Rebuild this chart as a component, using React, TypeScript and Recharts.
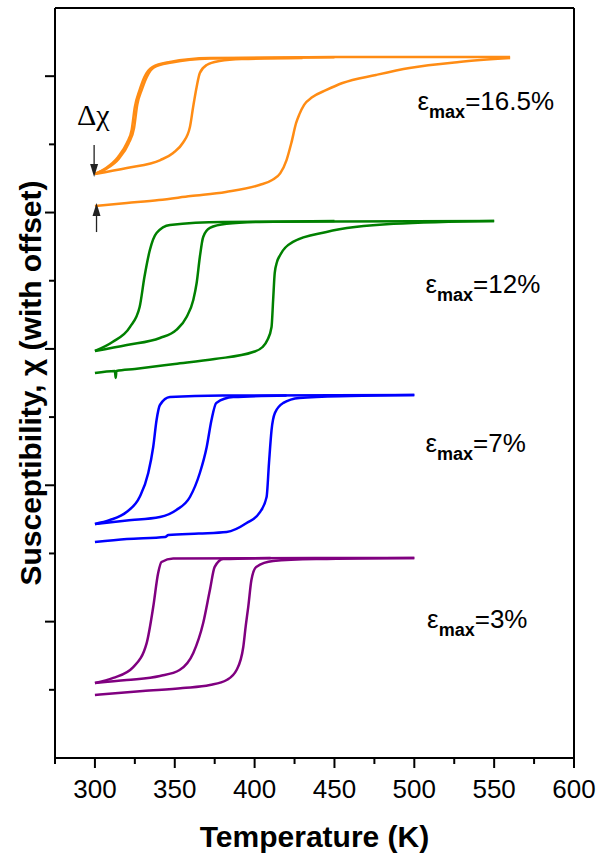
import { LineChart, Line, XAxis, YAxis, ReferenceLine, ReferenceDot } from 'recharts';

type Pair = [number, number];

// temperature (K), susceptibility with offset (arb.)
// eps_max = 16.5 %
const s165Heat1: Pair[] = [
  [300, 4.048], [320, 4.07], [340, 4.092], [360, 4.121], [382, 4.151], [403, 4.202],
  [411, 4.239], [416, 4.287], [420, 4.385], [423, 4.51], [426, 4.657], [428, 4.72],
  [431, 4.79], [436, 4.845], [445, 4.899], [455, 4.95], [476, 5.009], [497, 5.06], [528, 5.104], [560, 5.133],
];
const s165Cool1: Pair[] = [
  [300, 4.283], [307, 4.327], [314.5, 4.408], [320, 4.51], [323, 4.605], [325, 4.774],
  [328, 4.899], [331, 4.994], [336, 5.067], [347, 5.104], [372, 5.133], [450, 5.14], [560, 5.14],
];
const s165Cool2: Pair[] = [
  [300, 4.283], [307, 4.32], [315, 4.395], [321, 4.505], [324.5, 4.62], [326.5, 4.79],
  [329.5, 4.905], [332.5, 4.995], [337, 5.065], [348, 5.1], [372, 5.13], [450, 5.138],
];
const s165Heat2: Pair[] = [
  [300, 4.283], [320, 4.327], [341, 4.385], [349, 4.437], [355, 4.51], [359.5, 4.628],
  [361.5, 4.774], [363.7, 4.921], [365.7, 5.023], [370, 5.082], [378, 5.111], [392, 5.126], [430, 5.133],
];

// eps_max = 12 %
const s12Heat1: Pair[] = [
  [300, 2.823], [312.5, 2.838], [313, 2.787], [313.5, 2.838], [325, 2.853], [350, 2.889],
  [375, 2.926], [399, 2.977], [405, 3.014], [408, 3.065], [410.6, 3.161], [411.6, 3.359],
  [412.6, 3.557], [414, 3.637], [416, 3.689], [424, 3.785], [445, 3.858], [487, 3.917], [550, 3.938],
];
const s12Cool1: Pair[] = [
  [300, 2.985], [311, 3.051], [322, 3.161], [328, 3.307], [331, 3.527], [334.4, 3.725],
  [338.6, 3.85], [347, 3.909], [380, 3.931], [550, 3.938],
];
const s12Heat2: Pair[] = [
  [300, 2.985], [320, 3.029], [340.7, 3.08], [351, 3.139], [357.4, 3.234], [361.6, 3.359],
  [363.7, 3.483], [365.7, 3.674], [367.8, 3.821], [372, 3.887], [382.4, 3.917], [403, 3.931], [450, 3.938],
];

// eps_max = 7 %
const s7Heat1: Pair[] = [
  [300, 1.584], [320, 1.606], [344, 1.621], [346, 1.635], [365, 1.646], [382.5, 1.657],
  [395, 1.723], [403, 1.797], [407.5, 1.914], [409, 2.163], [410.6, 2.405], [412.7, 2.53],
  [418, 2.604], [428, 2.64], [460, 2.655], [500, 2.662],
];
const s7Cool1: Pair[] = [
  [300, 1.716], [309.4, 1.745], [319.8, 1.804], [328, 1.914], [333.4, 2.09], [336.5, 2.281],
  [338.6, 2.479], [340.7, 2.589], [347, 2.647], [380, 2.658], [500, 2.662],
];
const s7Heat2: Pair[] = [
  [300, 1.716], [320, 1.742], [340.7, 1.767], [351, 1.819], [359.5, 1.914], [365.7, 2.09],
  [370, 2.281], [373, 2.479], [376, 2.604], [386.6, 2.647], [420, 2.658],
];

// eps_max = 3 %
const s3Heat1: Pair[] = [
  [300, 0.462], [330, 0.491], [355, 0.513], [372, 0.535], [382.5, 0.572], [388.7, 0.645],
  [392.9, 0.814], [394.5, 0.975], [396, 1.107], [398, 1.305], [401, 1.401], [411.6, 1.445],
  [440, 1.459], [500, 1.467],
];
const s3Cool1: Pair[] = [
  [300, 0.55], [311.5, 0.587], [324, 0.667], [332.4, 0.843], [336.5, 1.107], [339.6, 1.357],
  [341.7, 1.437], [349, 1.463], [500, 1.467],
];
const s3Heat2: Pair[] = [
  [300, 0.55], [320, 0.572], [340.7, 0.601], [353, 0.645], [361.6, 0.77], [367.8, 0.99],
  [372, 1.232], [375, 1.401], [380.3, 1.459], [410, 1.467],
];

const xTicks = [275, 300, 325, 350, 375, 400, 425, 450, 475, 500, 525, 550, 575, 600];
const yTicks = [0.5, 1, 1.5, 2, 2.5, 3, 3.5, 4, 4.5, 5];

const ORANGE = '#ff8c14';
const GREEN = '#008000';
const BLUE = '#0000ff';
const PURPLE = '#800080';

const branches = [
  { id: 'o1', color: ORANGE, pts: s165Heat1 },
  { id: 'o2', color: ORANGE, pts: s165Cool1 },
  { id: 'o3', color: ORANGE, pts: s165Cool2 },
  { id: 'o4', color: ORANGE, pts: s165Heat2 },
  { id: 'g1', color: GREEN, pts: s12Heat1 },
  { id: 'g2', color: GREEN, pts: s12Cool1 },
  { id: 'g3', color: GREEN, pts: s12Heat2 },
  { id: 'b1', color: BLUE, pts: s7Heat1 },
  { id: 'b2', color: BLUE, pts: s7Cool1 },
  { id: 'b3', color: BLUE, pts: s7Heat2 },
  { id: 'p1', color: PURPLE, pts: s3Heat1 },
  { id: 'p2', color: PURPLE, pts: s3Cool1 },
  { id: 'p3', color: PURPLE, pts: s3Heat2 },
];

const labels = [
  { T: 502, chi: 4.75, text: '16.5%' },
  { T: 507, chi: 3.41, text: '12%' },
  { T: 507, chi: 2.243, text: '7%' },
  { T: 508, chi: 0.953, text: '3%' },
];

const SANS = "'Liberation Sans', Arial, sans-serif";
const SERIF = "'Liberation Serif', 'Times New Roman', serif";

const toRows = (pts: Pair[]) => pts.map(([T, chi]) => ({ T, chi }));

const XTick = (props: any) => {
  const { x, y, payload } = props;
  const major = payload.value % 50 === 0;
  return (
    <g>
      <line x1={x} y1={y} x2={x} y2={y + (major ? 10 : 6)} stroke="#000" strokeWidth={2} />
      {major && (
        <text x={x} y={y + 40} textAnchor="middle" fontFamily={SANS} fontSize={26} fill="#000">
          {payload.value}
        </text>
      )}
    </g>
  );
};

const YTick = (props: any) => {
  const { x, y, payload } = props;
  const major = Number.isInteger(payload.value);
  return <line x1={x - (major ? 10 : 6)} y1={y} x2={x} y2={y} stroke="#000" strokeWidth={2} />;
};

const Arrow = (p: any) => {
  const { x1, y1, x2, y2 } = p;
  const dir = Math.sign(y2 - y1);
  const head = 13;
  return (
    <g>
      <line x1={x1} y1={y1} x2={x2} y2={y2 - dir * head} stroke="#222" strokeWidth={1.3} />
      <path d={`M${x2},${y2} L${x2 - 4},${y2 - dir * head} L${x2 + 4},${y2 - dir * head} Z`} fill="#222" />
    </g>
  );
};

export default function App() {
  return (
    <div style={{ position: 'absolute', left: 0, top: 0 }}>
      <LineChart width={608} height={853} margin={{ top: 8, right: 34, bottom: 0, left: 0 }}>
        <XAxis
          type="number"
          dataKey="T"
          domain={[275, 600]}
          ticks={xTicks}
          interval={0}
          height={95}
          tickSize={0}
          tickMargin={0}
          tickLine={false}
          tick={<XTick />}
          axisLine={{ stroke: '#000', strokeWidth: 2 }}
          allowDataOverflow
          label={{
            value: 'Temperature (K)',
            position: 'insideBottom',
            offset: 6,
            fontFamily: SANS,
            fontSize: 30,
            fontWeight: 'bold',
            fill: '#000',
          }}
        />
        <YAxis
          type="number"
          dataKey="chi"
          domain={[0, 5.5]}
          ticks={yTicks}
          interval={0}
          width={55}
          tickSize={0}
          tickMargin={0}
          tickLine={false}
          tick={<YTick />}
          axisLine={{ stroke: '#000', strokeWidth: 2 }}
          allowDataOverflow
          label={{
            value: 'Susceptibility, χ (with offset)',
            angle: -90,
            position: 'insideLeft',
            offset: 30,
            fontFamily: SANS,
            fontSize: 30,
            fontWeight: 'bold',
            fill: '#000',
            style: { textAnchor: 'middle' },
          }}
        />
        <ReferenceLine y={5.5} stroke="#000" strokeWidth={2} />
        <ReferenceLine x={600} stroke="#000" strokeWidth={2} />
        {branches.map((b) => (
          <Line
            key={b.id}
            name={b.id}
            data={toRows(b.pts)}
            dataKey="chi"
            type="monotone"
            stroke={b.color}
            strokeWidth={2.5}
            dot={false}
            activeDot={false}
            isAnimationActive={false}
          />
        ))}
        <ReferenceLine
          segment={[{ x: 299.5, y: 4.495 }, { x: 299.5, y: 4.26 }]}
          shape={<Arrow />}
        />
        <ReferenceLine
          segment={[{ x: 301, y: 3.857 }, { x: 301, y: 4.07 }]}
          shape={<Arrow />}
        />
        <ReferenceDot
          x={288.7}
          y={4.64}
          r={1}
          shape={(p: any) => (
            <text x={p.cx} y={p.cy} fontFamily={SERIF} fontSize={30} fill="#000">
              Δχ
            </text>
          )}
        />
        {labels.map((l) => (
          <ReferenceDot
            key={l.text}
            x={l.T}
            y={l.chi}
            r={1}
            shape={(p: any) => (
              <text x={p.cx} y={p.cy} fontFamily={SANS} fontSize={26} fill="#000">
                ε
                <tspan fontSize={18} fontWeight="bold" dy={8}>
                  max
                </tspan>
                <tspan dy={-8}>={l.text}</tspan>
              </text>
            )}
          />
        ))}
      </LineChart>
    </div>
  );
}
